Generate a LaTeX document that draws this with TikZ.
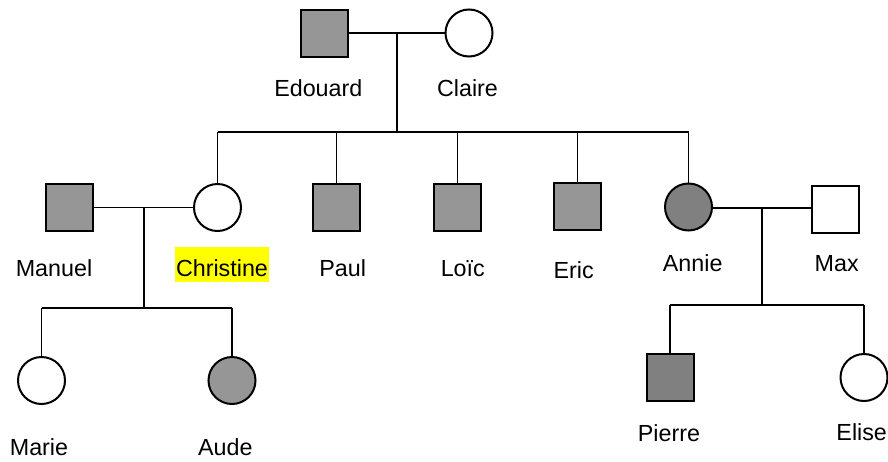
\documentclass[tikz,border=0pt]{standalone}
\usepackage{fontspec}
\setmainfont{Liberation Sans}
\definecolor{affgray}{RGB}{150,150,150}
\definecolor{affdark}{RGB}{128,128,128}
\definecolor{hl}{RGB}{255,255,0}
\begin{document}
\begin{tikzpicture}[x=1pt,y=-1pt,
  person/.style={draw=black, line width=2pt, minimum size=47pt, inner sep=0pt},
  male/.style={person, rectangle},
  female/.style={person, circle},
  unaff/.style={fill=white},
  aff/.style={fill=affgray},
  affd/.style={fill=affdark},
  link/.style={line width=1.8pt},
  lbl/.style={anchor=base, inner sep=0pt, font=\fontsize{23.3}{28}\selectfont},
]
\useasboundingbox (0,0) rectangle (888,461);
% generation I
\node[male,aff] (Edouard) at (324.5,33) {};
\node[female,unaff] (Claire) at (469,33) {};
% generation II
\node[male,aff] (Manuel) at (69,207.5) {};
\node[female,unaff] (Christine) at (217.5,207.5) {};
\node[male,aff] (Paul) at (336.5,207.5) {};
\node[male,aff] (Loic) at (457.5,207.5) {};
\node[male,aff] (Eric) at (577.5,206.5) {};
\node[female,affd] (Annie) at (688.5,207) {};
\node[male,unaff] (Max) at (835,209) {};
% generation III
\node[female,unaff] (Marie) at (41.5,380.5) {};
\node[female,aff] (Aude) at (232,380.5) {};
\node[male,affd] (Pierre) at (670,377.5) {};
\node[female,unaff] (Elise) at (864,377.5) {};
% connectors
\coordinate (m1) at (396.7,33);
\coordinate (s1) at (396.7,132);
\draw[link] (Edouard) -- (Claire);
\draw[link] (m1) -- (s1);
\draw[link] (Christine.north |- s1) -- (Annie.north |- s1);
\foreach \n in {Christine,Paul,Loic,Eric,Annie}
  \draw[link] (\n.north |- s1) -- (\n.north);
\coordinate (m2) at (144,207.5);
\coordinate (s2) at (144,308);
\draw[link] (Manuel) -- (Christine);
\draw[link] (m2) -- (s2);
\draw[link] (Marie.north |- s2) -- (Aude.north |- s2);
\foreach \n in {Marie,Aude}
  \draw[link] (\n.north |- s2) -- (\n.north);
\coordinate (m3) at (762,208);
\coordinate (s3) at (762,305);
\draw[link] (Annie.east |- m3) -- (Max.west |- m3);
\draw[link] (m3) -- (s3);
\draw[link] (Pierre.north |- s3) -- (Elise.north |- s3);
\foreach \n in {Pierre,Elise}
  \draw[link] (\n.north |- s3) -- (\n.north);
% labels
\node[lbl] (lEdouard) at (318.3,96.7) {Edouard};
\node[lbl] (lClaire) at (467.5,96.7) {Claire};
\node[lbl] (lManuel) at (54,276) {Manuel};
\node[lbl, fill=hl, text height=29pt, text depth=6pt, inner xsep=1pt] (lChristine) at (222,276) {Christine};
\node[lbl] (lPaul) at (342.7,276.7) {Paul};
\node[lbl] (lLoic) at (462.8,276.7) {Loïc};
\node[lbl] (lEric) at (573.7,278) {Eric};
\node[lbl] (lAnnie) at (692.7,271.7) {Annie};
\node[lbl] (lMax) at (836.7,271.7) {Max};
\node[lbl] (lMarie) at (39,455) {Marie};
\node[lbl] (lAude) at (225.3,455) {Aude};
\node[lbl] (lPierre) at (669,441.7) {Pierre};
\node[lbl] (lElise) at (861.7,440) {Elise};
\end{tikzpicture}
\end{document}
